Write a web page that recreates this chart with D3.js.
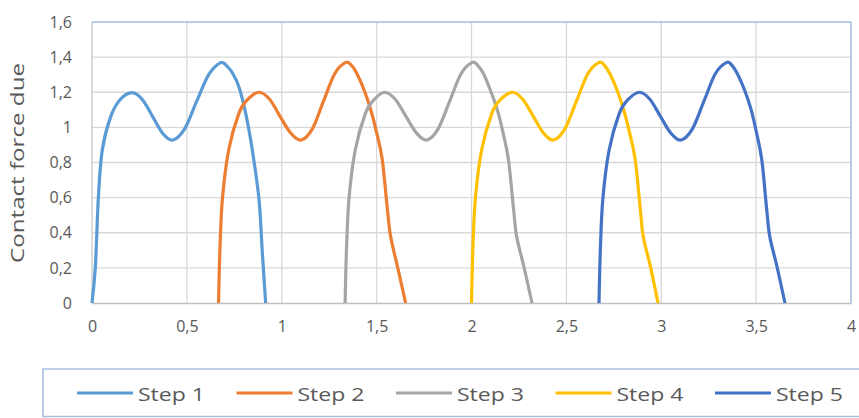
<!DOCTYPE html>
<html>
<head>
<meta charset="utf-8">
<script src="https://cdn.jsdelivr.net/npm/d3@7"></script>
<style>
  html, body { margin: 0; padding: 0; background: #fff; }
  svg { display: block; }
  text { font-family: "Open Sans", "DejaVu Sans", sans-serif; fill: #595959; }
</style>
</head>
<body>
<svg id="chart" width="859" height="418"></svg>
<script>
// ---- data ----
const seriesNames = ["Step 1", "Step 2", "Step 3", "Step 4", "Step 5"];
const seriesColors = ["#5b9bd5", "#ed7d31", "#a5a5a5", "#ffc000", "#4472c4"];

const step1X = [0, 0.018, 0.033, 0.054, 0.098, 0.15, 0.212, 0.265, 0.319, 0.372, 0.426, 0.489, 0.552, 0.615, 0.678, 0.71, 0.74, 0.774, 0.81, 0.845, 0.88, 0.897, 0.915];
const step1Y = [0, 0.21, 0.59, 0.87, 1.06, 1.16, 1.198, 1.159, 1.063, 0.967, 0.928, 0.993, 1.149, 1.30, 1.369, 1.35, 1.31, 1.232, 1.08, 0.87, 0.59, 0.3, 0];

const step2X = [0.667, 0.674, 0.687, 0.72, 0.774, 0.818, 0.88, 0.936, 0.99, 1.047, 1.103, 1.162, 1.22, 1.279, 1.337, 1.37, 1.399, 1.435, 1.469, 1.50, 1.53, 1.557, 1.574, 1.61, 1.653];
const step2Y = [0, 0.30, 0.59, 0.87, 1.08, 1.156, 1.2, 1.16, 1.064, 0.968, 0.928, 0.993, 1.149, 1.305, 1.37, 1.35, 1.3, 1.21, 1.1, 0.97, 0.814, 0.53, 0.378, 0.207, 0];

const step3X = [1.334, 1.341, 1.354, 1.387, 1.441, 1.485, 1.543, 1.598, 1.654, 1.71, 1.765, 1.825, 1.885, 1.945, 2.004, 2.035, 2.066, 2.1, 2.136, 2.166, 2.195, 2.222, 2.238, 2.276, 2.319];
const step3Y = [0, 0.30, 0.59, 0.87, 1.08, 1.156, 1.2, 1.16, 1.064, 0.968, 0.928, 0.993, 1.149, 1.305, 1.37, 1.35, 1.3, 1.21, 1.1, 0.97, 0.814, 0.53, 0.378, 0.207, 0];

const step4X = [2.0, 2.007, 2.02, 2.053, 2.107, 2.151, 2.216, 2.27, 2.325, 2.379, 2.433, 2.493, 2.553, 2.613, 2.673, 2.703, 2.732, 2.768, 2.802, 2.833, 2.863, 2.89, 2.905, 2.943, 2.983];
const step4Y = [0, 0.30, 0.59, 0.87, 1.08, 1.156, 1.2, 1.16, 1.064, 0.968, 0.928, 0.993, 1.149, 1.305, 1.37, 1.35, 1.3, 1.21, 1.1, 0.97, 0.814, 0.53, 0.378, 0.207, 0];

const step5X = [2.672, 2.679, 2.692, 2.725, 2.779, 2.823, 2.885, 2.94, 2.995, 3.05, 3.105, 3.165, 3.225, 3.285, 3.345, 3.375, 3.404, 3.44, 3.474, 3.502, 3.53, 3.556, 3.572, 3.61, 3.652];
const step5Y = [0, 0.30, 0.59, 0.87, 1.08, 1.156, 1.2, 1.16, 1.064, 0.968, 0.928, 0.993, 1.149, 1.305, 1.37, 1.35, 1.3, 1.21, 1.1, 0.97, 0.814, 0.53, 0.378, 0.207, 0];

const xTicks = [0, 0.5, 1, 1.5, 2, 2.5, 3, 3.5, 4];
const yTicks = [0, 0.2, 0.4, 0.6, 0.8, 1, 1.2, 1.4, 1.6];
const yTitle = "Contact force due";

// ---- build ----
const seriesXs = [step1X, step2X, step3X, step4X, step5X];
const seriesYs = [step1Y, step2Y, step3Y, step4Y, step5Y];
const series = seriesNames.map((name, i) => ({
  name, color: seriesColors[i],
  points: seriesXs[i].map((x, j) => ({ x, y: seriesYs[i][j] }))
}));

const svg = d3.select("#chart");
const plot = { left: 92, right: 851, top: 22, bottom: 303 };

const x = d3.scaleLinear().domain([0, 4]).range([plot.left, plot.right]);
const y = d3.scaleLinear().domain([0, 1.6]).range([plot.bottom, plot.top]);
const fmt = d => String(d).replace(".", ",");

// gridlines
svg.append("g").selectAll("line").data(yTicks.filter(d => d > 0 && d < 1.6)).join("line")
  .attr("x1", plot.left).attr("x2", plot.right)
  .attr("y1", d => y(d)).attr("y2", d => y(d))
  .attr("stroke", "#d9d9d9").attr("stroke-width", 1.3);
svg.append("g").selectAll("line").data(xTicks.filter(d => d > 0 && d < 4)).join("line")
  .attr("x1", d => x(d)).attr("x2", d => x(d))
  .attr("y1", plot.top).attr("y2", plot.bottom)
  .attr("stroke", "#d9d9d9").attr("stroke-width", 1.3);

// plot frame
svg.append("line").attr("x1", plot.left).attr("x2", plot.right).attr("y1", plot.top).attr("y2", plot.top)
  .attr("stroke", "#a4bbdc").attr("stroke-width", 1.5);
svg.append("line").attr("x1", plot.right).attr("x2", plot.right).attr("y1", plot.top).attr("y2", plot.bottom)
  .attr("stroke", "#a4bbdc").attr("stroke-width", 1.5);
svg.append("line").attr("x1", plot.left).attr("x2", plot.left).attr("y1", plot.top).attr("y2", plot.bottom)
  .attr("stroke", "#c8c8c8").attr("stroke-width", 1.3);

// x axis
const xAxis = svg.append("g").attr("transform", `translate(0,${plot.bottom})`)
  .call(d3.axisBottom(x).tickValues(xTicks).tickFormat(fmt).tickSize(0).tickPadding(29));
xAxis.select(".domain").attr("stroke", "#bfbfbf").attr("stroke-width", 1.5);
xAxis.selectAll("text").style("font-size", "16px").attr("fill", "#595959").attr("dy", "0");

// y axis
const yAxis = svg.append("g").attr("transform", `translate(72,0)`)
  .call(d3.axisLeft(y).tickValues(yTicks).tickFormat(fmt).tickSize(0).tickPadding(0));
yAxis.select(".domain").remove();
yAxis.selectAll("text").style("font-size", "16px").attr("fill", "#595959");

// y title
svg.append("text")
  .attr("transform", `translate(24,163) rotate(-90)`)
  .attr("text-anchor", "middle")
  .attr("textLength", 200).attr("lengthAdjust", "spacingAndGlyphs")
  .style("font-size", "19px")
  .text(yTitle);

// lines
const line = d3.line().x(d => x(d.x)).y(d => y(d.y)).curve(d3.curveCatmullRom.alpha(0));
svg.append("g").selectAll("path").data(series).join("path")
  .attr("d", d => line(d.points))
  .attr("fill", "none")
  .attr("stroke", d => d.color)
  .attr("stroke-width", 3.2)
  .attr("stroke-linejoin", "round");

// legend
svg.append("rect").attr("x", 43).attr("y", 369).attr("width", 840).attr("height", 47.5)
  .attr("fill", "#fff").attr("stroke", "#a6bfe0").attr("stroke-width", 1.5);
const leg = svg.append("g").selectAll("g").data(series).join("g")
  .attr("transform", (d, i) => `translate(${77 + i * 159.5},0)`);
leg.append("line").attr("x1", 0).attr("x2", 56).attr("y1", 393).attr("y2", 393)
  .attr("stroke", d => d.color).attr("stroke-width", 3.2);
leg.append("text").attr("x", 61).attr("y", 401)
  .attr("textLength", 67).attr("lengthAdjust", "spacingAndGlyphs")
  .style("font-size", "19px")
  .text(d => d.name);
</script>
</body>
</html>
